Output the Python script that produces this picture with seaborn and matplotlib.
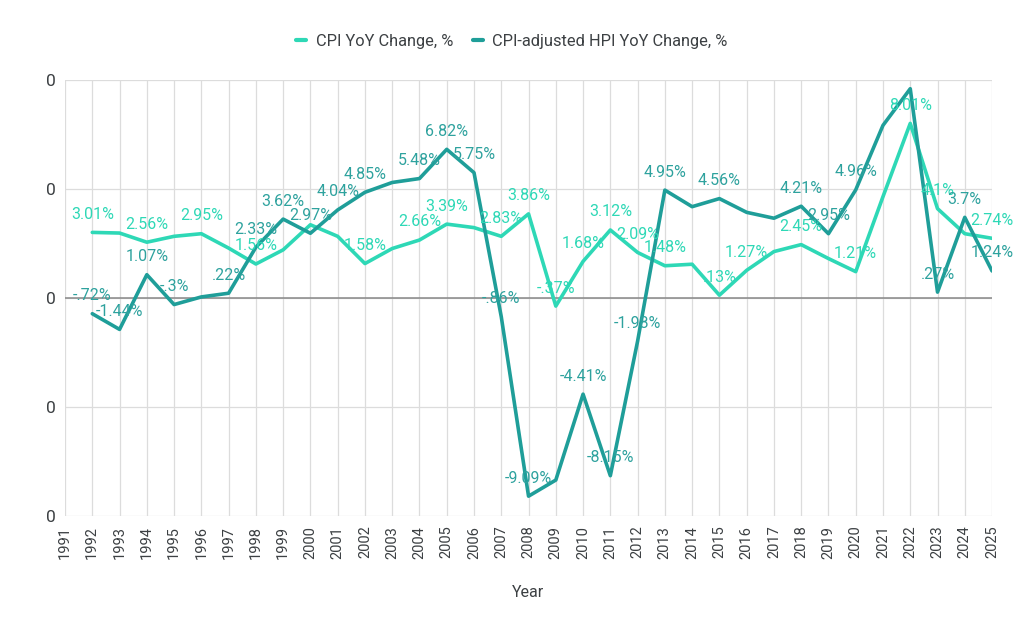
import pandas as pd
import matplotlib.pyplot as plt
import seaborn as sns
from matplotlib.lines import Line2D

# ----------------------------------------
# Data
# ----------------------------------------
years = list(range(1992, 2026))

cpi = [3.01, 2.98, 2.56, 2.83, 2.95, 2.29, 1.56, 2.21, 3.36, 2.83,
       1.58, 2.27, 2.66, 3.39, 3.23, 2.83, 3.86, -0.37, 1.68, 3.12,
       2.09, 1.48, 1.55, 0.13, 1.27, 2.13, 2.45, 1.81, 1.21, 4.65,
       8.01, 4.10, 2.95, 2.74]

hpi = [-0.72, -1.44, 1.07, -0.30, 0.05, 0.22, 2.33, 3.62, 2.97, 4.04,
       4.85, 5.30, 5.48, 6.82, 5.75, -0.86, -9.09, -8.35, -4.41, -8.15,
       -1.98, 4.95, 4.19, 4.56, 3.93, 3.66, 4.21, 2.95, 4.96, 7.92,
       9.60, 0.27, 3.70, 1.24]

cpi_labels = {1992: "3.01%", 1994: "2.56%", 1996: "2.95%", 1998: "1.56%",
              2002: "1.58%", 2004: "2.66%", 2005: "3.39%", 2007: "2.83%",
              2008: "3.86%", 2009: "-.37%", 2010: "1.68%", 2011: "3.12%",
              2012: "2.09%", 2013: "1.48%", 2015: ".13%", 2016: "1.27%",
              2018: "2.45%", 2020: "1.21%", 2022: "8.01%", 2023: "4.1%",
              2025: "2.74%"}

hpi_labels = {1992: "-.72%", 1993: "-1.44%", 1994: "1.07%", 1995: "-.3%",
              1997: ".22%", 1998: "2.33%", 1999: "3.62%", 2000: "2.97%",
              2001: "4.04%", 2002: "4.85%", 2004: "5.48%", 2005: "6.82%",
              2006: "5.75%", 2007: "-.86%", 2008: "-9.09%", 2010: "-4.41%",
              2011: "-8.15%", 2012: "-1.98%", 2013: "4.95%", 2015: "4.56%",
              2018: "4.21%", 2019: "2.95%", 2020: "4.96%", 2023: ".27%",
              2024: "3.7%", 2025: "1.24%"}

x_ticks = list(range(1991, 2026))
y_ticks = [-10, -5, 0, 5, 10]

cpi_color = "#2ed8b6"
hpi_color = "#1f9e99"
text_color = "#3c4043"

df = pd.DataFrame({"Year": years, "CPI": cpi, "HPI": hpi})

# ----------------------------------------
# Plot
# ----------------------------------------
sns.set_style("white")
plt.rcParams["font.family"] = ["Roboto", "DejaVu Sans"]

fig = plt.figure(figsize=(10.24, 6.33), dpi=100)
ax = fig.add_axes([0.0635, 0.1848, 0.9053, 0.6888])

sns.lineplot(data=df, x="Year", y="CPI", color=cpi_color, linewidth=2.6, ax=ax)
sns.lineplot(data=df, x="Year", y="HPI", color=hpi_color, linewidth=2.6, ax=ax)

for yr, lab in cpi_labels.items():
    ax.annotate(lab, (yr, cpi[years.index(yr)]), xytext=(0, 13),
                textcoords="offset points", ha="center", va="center",
                fontsize=11.5, color=cpi_color)

for yr, lab in hpi_labels.items():
    ax.annotate(lab, (yr, hpi[years.index(yr)]), xytext=(0, 13),
                textcoords="offset points", ha="center", va="center",
                fontsize=11.5, color="#2ea29e")

ax.set_xlim(1991, 2025)
ax.set_ylim(-10, 10)
ax.set_xticks(x_ticks)
ax.set_xticklabels([str(t) for t in x_ticks], rotation=90, fontsize=10.5,
                   color=text_color)
ax.set_yticks(y_ticks)
ax.set_yticklabels(["0"] * len(y_ticks), fontsize=12.5, color=text_color)
ax.tick_params(axis="both", length=0, pad=7)

ax.grid(True, color="#dcdcdc", linewidth=0.9)
ax.axhline(0, color="#888888", linewidth=1.1, zorder=1.5)
for s in ax.spines.values():
    s.set_visible(False)

ax.set_xlabel("Year", fontsize=11.5, color=text_color, labelpad=19)
ax.set_ylabel("")

handles = [Line2D([0], [0], color=cpi_color, linewidth=3),
           Line2D([0], [0], color=hpi_color, linewidth=3)]
fig.legend(handles, ["CPI YoY Change, %", "CPI-adjusted HPI YoY Change, %"],
           loc="center", bbox_to_anchor=(0.5, 0.935), ncol=2, frameon=False,
           handlelength=0.6, handletextpad=0.6, columnspacing=1.2,
           fontsize=11.8, labelcolor=text_color)

plt.savefig("out.png", dpi=100)
